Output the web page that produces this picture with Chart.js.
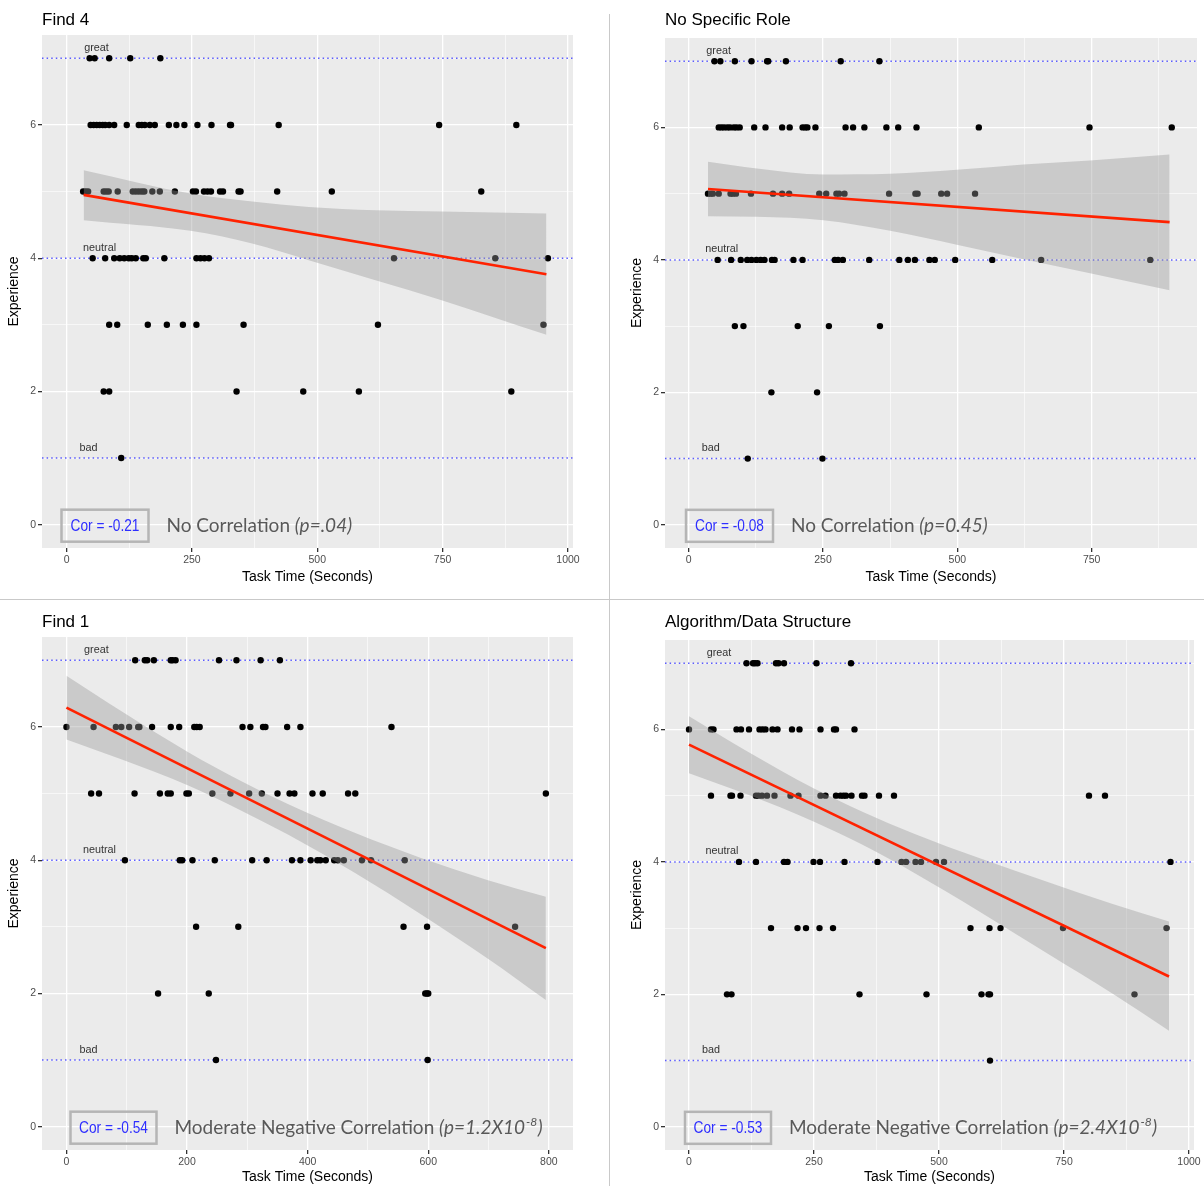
<!DOCTYPE html>
<html>
<head>
<meta charset="utf-8">
<title>Task time vs experience</title>
<script src="https://cdn.jsdelivr.net/npm/chart.js@4.4.1/dist/chart.umd.min.js"></script>
<style>
  body { margin: 0; background: #fff; width: 1204px; height: 1186px; position: relative; overflow: hidden; }
  canvas { position: absolute; }
  .rule { position: absolute; background: #c9c9c9; }
</style>
</head>
<body>
<div class="rule" style="left:609px;top:14px;width:1px;height:1172px"></div>
<div class="rule" style="left:0;top:599px;width:1204px;height:1px"></div>
<canvas id="find4" width="605" height="594" style="left:0;top:0"></canvas>
<canvas id="noRole" width="581" height="594" style="left:623px;top:0"></canvas>
<canvas id="find1" width="605" height="586" style="left:0;top:600px"></canvas>
<canvas id="algo" width="581" height="586" style="left:623px;top:600px"></canvas>
<script>
// rating rows, top to bottom; each *Times array holds one list of task times per rating
const ratingLevels = [7, 6, 5, 4, 3, 2, 1];
const moodLevels = [7, 4, 1];
const moodNames = ["great", "neutral", "bad"];
const yTickValues = [0, 1, 2, 3, 4, 5, 6, 7];

// Find 4
const find4Times = [
    [46, 56, 85, 127, 187],
    [48, 54, 60, 66, 72, 77, 85, 95, 120, 144, 150, 156, 166, 176, 204, 219, 235, 261, 289, 326, 328, 423, 743, 897],
    [33, 38, 43, 74, 79, 84, 102, 132, 138, 144, 150, 155, 171, 186, 216, 252, 258, 274, 281, 288, 306, 312, 343, 347, 420, 529, 827],
    [52, 77, 95, 106, 115, 124, 130, 138, 153, 158, 195, 259, 267, 275, 284, 653, 855, 960],
    [85, 101, 162, 200, 232, 259, 353, 621, 951],
    [74, 85, 339, 472, 583, 887],
    [109]
];
const find4BandX = [34, 247, 370, 483, 616, 748, 957];
const find4BandUpper = [5.32, 4.97, 4.85, 4.77, 4.72, 4.70, 4.67];
const find4BandLower = [4.57, 4.41, 4.22, 3.97, 3.67, 3.37, 2.85];
const find4FitX = [34, 957];
const find4FitY = [4.95, 3.76];
const find4XTicks = [0, 125, 250, 375, 500, 625, 750, 875, 1000];

// No Specific Role
const noRoleTimes = [
    [48, 59, 86, 117, 146, 148, 181, 283, 355],
    [56, 61, 66, 72, 77, 84, 89, 95, 122, 143, 174, 188, 212, 217, 221, 236, 292, 306, 327, 368, 390, 424, 540, 746, 899],
    [36, 41, 45, 56, 78, 82, 88, 116, 157, 174, 187, 243, 256, 275, 280, 290, 373, 422, 426, 470, 481, 533],
    [54, 79, 97, 109, 117, 126, 134, 141, 155, 160, 195, 212, 272, 278, 287, 336, 392, 408, 421, 448, 458, 496, 565, 656, 859],
    [86, 102, 203, 261, 356],
    [154, 239],
    [110, 249]
];
const noRoleBandX = [36, 127, 251, 375, 499, 623, 747, 895];
const noRoleBandUpper = [5.48, 5.38, 5.29, 5.30, 5.36, 5.44, 5.50, 5.59];
const noRoleBandLower = [4.66, 4.65, 4.60, 4.44, 4.23, 4.01, 3.80, 3.54];
const noRoleFitX = [36, 895];
const noRoleFitY = [5.07, 4.57];
const noRoleXTicks = [0, 125, 250, 375, 500, 625, 750, 875];

// Find 1
const find1Times = [
    [114, 130, 134, 145, 173, 176, 181, 253, 282, 322, 354],
    [0, 45, 82, 91, 104, 119, 121, 142, 173, 187, 212, 216, 221, 292, 305, 326, 330, 366, 388, 539],
    [41, 54, 113, 155, 168, 173, 199, 203, 242, 272, 303, 324, 350, 370, 378, 408, 425, 467, 479, 795],
    [97, 188, 192, 209, 246, 308, 332, 374, 388, 405, 416, 421, 430, 444, 450, 460, 490, 505, 561],
    [215, 285, 559, 598, 744],
    [152, 236, 595, 598, 600],
    [248, 599]
];
const find1BandX = [0, 92, 202, 291, 368, 478, 589, 699, 795];
const find1BandUpper = [6.77, 6.23, 5.62, 5.18, 4.84, 4.41, 4.03, 3.70, 3.45];
const find1BandLower = [5.81, 5.51, 5.12, 4.74, 4.38, 3.81, 3.18, 2.52, 1.90];
const find1FitX = [0, 795];
const find1FitY = [6.29, 2.68];
const find1XTicks = [0, 100, 200, 300, 400, 500, 600, 700, 800];

// Algorithm/Data Structure
const algoTimes = [
    [115, 128, 132, 137, 174, 179, 190, 255, 324],
    [0, 44, 49, 95, 104, 120, 141, 147, 153, 167, 177, 206, 221, 263, 290, 294, 331],
    [44, 83, 86, 103, 134, 139, 146, 156, 171, 203, 219, 263, 273, 294, 303, 309, 314, 325, 346, 351, 380, 410, 800, 832],
    [100, 134, 190, 197, 249, 262, 311, 377, 425, 434, 453, 464, 494, 510, 963],
    [164, 217, 234, 261, 288, 563, 601, 623, 748, 955],
    [76, 85, 341, 475, 585, 599, 602, 891],
    [602]
];
const algoBandX = [0, 116, 249, 349, 449, 583, 716, 849, 960];
const algoBandUpper = [6.20, 5.67, 5.11, 4.75, 4.43, 4.05, 3.70, 3.36, 3.10];
const algoBandLower = [5.34, 5.02, 4.61, 4.25, 3.84, 3.24, 2.62, 2.00, 1.45];
const algoFitX = [0, 960];
const algoFitY = [5.77, 2.27];
const algoXTicks = [0, 125, 250, 375, 500, 625, 750, 875, 1000];

const SANS = "'Liberation Sans', Arial, sans-serif";
const NOTE = "Lato, 'Open Sans', sans-serif";

const panels = [
    {
        id: "find4", title: "Find 4", times: find4Times,
        bandX: find4BandX, upper: find4BandUpper, lower: find4BandLower, fitX: find4FitX, fitY: find4FitY,
        xTicks: find4XTicks, major: 250, xMin: -49, xMax: 1010,
        cor: "Cor = -0.21", verdict: "No Correlation", pParts: ["(p=.04)", "", ""],
        padding: { left: 0, right: 32, top: 0, bottom: 6 }, titlePad: { top: 9.8, bottom: 4.8 },
        xAxisHeight: 40, xTitlePad: 2.6, boxLeft: 19.5, boxWidth: 87
    },
    {
        id: "noRole", title: "No Specific Role", times: noRoleTimes,
        bandX: noRoleBandX, upper: noRoleBandUpper, lower: noRoleBandLower, fitX: noRoleFitX, fitY: noRoleFitY,
        xTicks: noRoleXTicks, major: 250, xMin: -44, xMax: 946,
        cor: "Cor = -0.08", verdict: "No Correlation", pParts: ["(p=0.45)", "", ""],
        padding: { left: 0, right: 7, top: 0, bottom: 6 }, titlePad: { top: 9.8, bottom: 7.8 },
        xAxisHeight: 40, xTitlePad: 2.6, boxLeft: 21, boxWidth: 87
    },
    {
        id: "find1", title: "Find 1", times: find1Times,
        bandX: find1BandX, upper: find1BandUpper, lower: find1BandLower, fitX: find1FitX, fitY: find1FitY,
        xTicks: find1XTicks, major: 200, xMin: -40.5, xMax: 840,
        cor: "Cor = -0.54", verdict: "Moderate Negative Correlation", pParts: ["(p=1.2X10", "-8", ")"],
        padding: { left: 0, right: 32, top: 0, bottom: 0 }, titlePad: { top: 11.8, bottom: 4.8 },
        xAxisHeight: 36, xTitlePad: 0, boxLeft: 28.5, boxWidth: 86
    },
    {
        id: "algo", title: "Algorithm/Data Structure", times: algoTimes,
        bandX: algoBandX, upper: algoBandUpper, lower: algoBandLower, fitX: algoFitX, fitY: algoFitY,
        xTicks: algoXTicks, major: 250, xMin: -48, xMax: 1010,
        cor: "Cor = -0.53", verdict: "Moderate Negative Correlation", pParts: ["(p=2.4X10", "-8", ")"],
        padding: { left: 0, right: 10, top: 0, bottom: 0 }, titlePad: { top: 11.8, bottom: 7.8 },
        xAxisHeight: 36, xTitlePad: 0, boxLeft: 20, boxWidth: 86
    }
];

const toPoints = (xs, ys) => xs.map((x, i) => ({ x: x, y: ys[i] }));

// grey panel, dotted mood lines, their labels and the correlation note
const panelDecor = {
    id: "panelDecor",
    beforeDraw(chart) {
        const { ctx, chartArea: a } = chart;
        ctx.save();
        ctx.fillStyle = "#ebebeb";
        ctx.fillRect(a.left, a.top, a.right - a.left, a.bottom - a.top);
        ctx.restore();
    },
    beforeDatasetsDraw(chart) {
        const { ctx, chartArea: a, scales } = chart;
        ctx.save();
        ctx.strokeStyle = "rgba(40,40,255,0.75)";
        ctx.lineWidth = 1.5;
        ctx.setLineDash([1.5, 3.1]);
        moodLevels.forEach(v => {
            const py = scales.y.getPixelForValue(v);
            ctx.beginPath();
            ctx.moveTo(a.left, py);
            ctx.lineTo(a.right, py);
            ctx.stroke();
        });
        ctx.restore();
    },
    afterDatasetsDraw(chart) {
        const { ctx, scales } = chart;
        const labelShift = [30, 33, 22];
        const x0 = scales.x.getPixelForValue(0);
        ctx.save();
        ctx.fillStyle = "#333";
        ctx.font = "10.8px " + SANS;
        ctx.textAlign = "center";
        ctx.textBaseline = "alphabetic";
        moodLevels.forEach((v, i) => {
            ctx.fillText(moodNames[i], x0 + labelShift[i], scales.y.getPixelForValue(v) - 7.5);
        });
        ctx.restore();
    },
    afterDraw(chart, args, opts) {
        const { ctx, chartArea: a, scales } = chart;
        const y0 = scales.y.getPixelForValue(0);
        const left = a.left + opts.boxLeft;
        ctx.save();
        ctx.strokeStyle = "#b5b5b5";
        ctx.lineWidth = 2.5;
        ctx.strokeRect(left, y0 - 15, opts.boxWidth, 32);

        // the Cor label is set in a narrow face: squeeze it horizontally
        ctx.save();
        ctx.translate(left + opts.boxWidth / 2, y0 + 6.5);
        ctx.scale(0.83, 1);
        ctx.fillStyle = "#2e2eff";
        ctx.font = "16.5px " + SANS;
        ctx.textAlign = "center";
        ctx.textBaseline = "alphabetic";
        ctx.fillText(opts.cor, 0, 0);
        ctx.restore();

        let x = left + opts.boxWidth + 18;
        const base = y0 + 7;
        ctx.textAlign = "left";
        ctx.textBaseline = "alphabetic";
        ctx.fillStyle = "#595959";
        ctx.font = "19px " + NOTE;
        ctx.fillText(opts.verdict + " ", x, base);
        x += ctx.measureText(opts.verdict + " ").width;
        ctx.font = "italic 19px " + NOTE;
        ctx.fillText(opts.pParts[0], x, base);
        x += ctx.measureText(opts.pParts[0]).width;
        if (opts.pParts[1]) {
            ctx.font = "italic 12px " + NOTE;
            ctx.fillText(opts.pParts[1], x + 1, base - 8);
            x += ctx.measureText(opts.pParts[1]).width + 1.5;
            ctx.font = "italic 19px " + NOTE;
            ctx.fillText(opts.pParts[2], x, base);
        }
        ctx.restore();
    }
};

function buildPanel(p) {
    const points = ratingLevels.flatMap((r, i) => p.times[i].map(t => ({ x: t, y: r })));
    const isMajor = v => v % p.major === 0;

    return new Chart(document.getElementById(p.id), {
        type: "scatter",
        data: {
            datasets: [
                {
                    type: "line", data: toPoints(p.fitX, p.fitY),
                    borderColor: "#ff2200", borderWidth: 2.6, pointRadius: 0, fill: false, order: 1
                },
                {
                    type: "line", data: toPoints(p.bandX, p.upper),
                    borderColor: "transparent", backgroundColor: "rgba(153,153,153,0.4)",
                    pointRadius: 0, cubicInterpolationMode: "monotone", fill: "+1", order: 2
                },
                {
                    type: "line", data: toPoints(p.bandX, p.lower),
                    borderColor: "transparent", pointRadius: 0, cubicInterpolationMode: "monotone",
                    fill: false, order: 2
                },
                {
                    data: points, backgroundColor: "#000", borderWidth: 0, pointRadius: 3.2, order: 3
                }
            ]
        },
        options: {
            responsive: false,
            animation: false,
            events: [],
            layout: { padding: p.padding },
            plugins: {
                legend: { display: false },
                tooltip: { enabled: false },
                title: {
                    display: true, text: p.title, align: "start", fullSize: false,
                    color: "#000", font: { family: SANS, size: 17, weight: "normal" },
                    padding: p.titlePad
                },
                panelDecor: { cor: p.cor, verdict: p.verdict, pParts: p.pParts, boxLeft: p.boxLeft, boxWidth: p.boxWidth }
            },
            scales: {
                x: {
                    type: "linear", min: p.xMin, max: p.xMax,
                    afterBuildTicks: s => { s.ticks = p.xTicks.map(v => ({ value: v })); },
                    afterFit: s => { s.height = p.xAxisHeight; },
                    ticks: {
                        autoSkip: false, maxRotation: 0, padding: 2,
                        color: "#4d4d4d", font: { family: SANS, size: 10.5 },
                        callback: v => isMajor(v) ? String(v) : ""
                    },
                    grid: {
                        color: "#fff", tickLength: 4,
                        lineWidth: c => (c.tick && isMajor(c.tick.value)) ? 1.3 : 0.6,
                        tickColor: c => (c.tick && isMajor(c.tick.value)) ? "#333" : "transparent"
                    },
                    border: { display: false },
                    title: {
                        display: true, text: "Task Time (Seconds)", color: "#000",
                        font: { family: SANS, size: 14 }, padding: { top: 0, bottom: p.xTitlePad }
                    }
                },
                y: {
                    type: "linear", min: -0.35, max: 7.35,
                    afterBuildTicks: s => { s.ticks = yTickValues.map(v => ({ value: v })); },
                    afterFit: s => { s.width = 42; },
                    ticks: {
                        autoSkip: false, padding: 2,
                        color: "#4d4d4d", font: { family: SANS, size: 10.5 },
                        callback: v => v % 2 === 0 ? String(v) : ""
                    },
                    grid: {
                        color: "#fff", tickLength: 4,
                        lineWidth: c => (c.tick && c.tick.value % 2 === 0) ? 1.3 : 0.6,
                        tickColor: c => (c.tick && c.tick.value % 2 === 0) ? "#333" : "transparent"
                    },
                    border: { display: false },
                    title: {
                        display: true, text: "Experience", color: "#000",
                        font: { family: SANS, size: 14 }, padding: { top: 5.6, bottom: 0 }
                    }
                }
            }
        },
        plugins: [panelDecor]
    });
}

panels.forEach(buildPanel);
</script>
</body>
</html>
